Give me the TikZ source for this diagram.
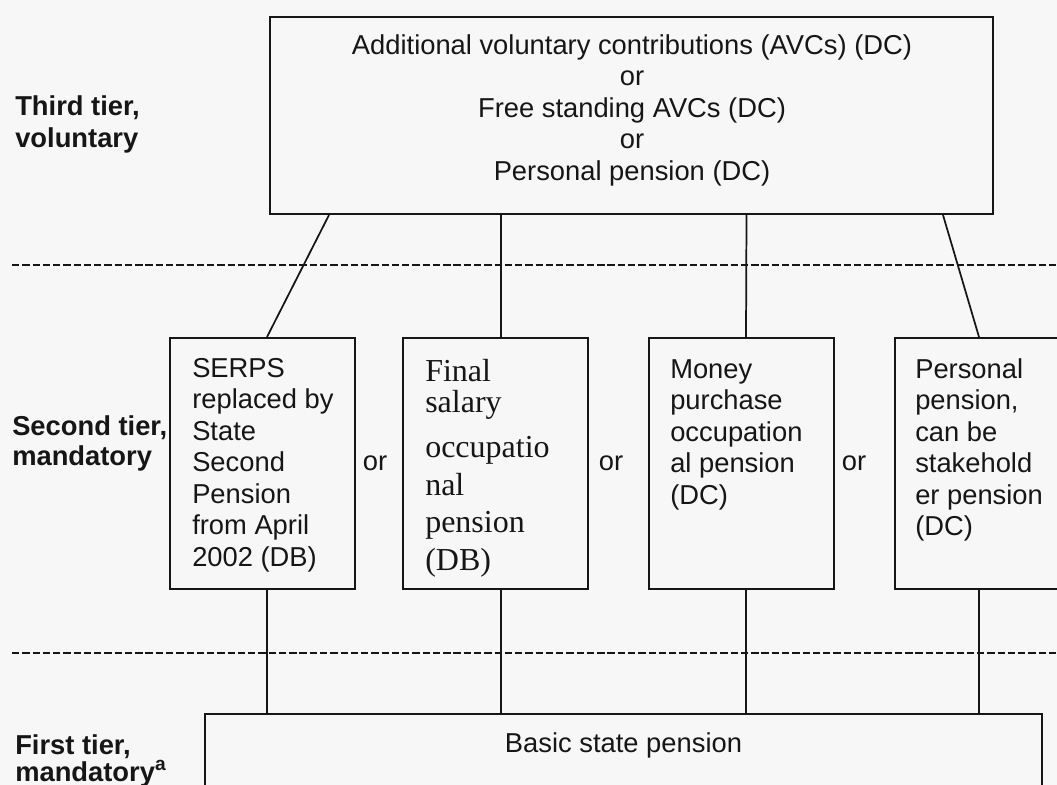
\documentclass[tikz,border=0pt]{standalone}
\usepackage{fontspec}
\setmainfont{Liberation Sans}
\newfontfamily\tnr{Liberation Serif}
\usetikzlibrary{calc}
\definecolor{ink}{RGB}{22,22,22}
\definecolor{paper}{RGB}{247,247,247}
\begin{document}
\begin{tikzpicture}[x=0.75pt,y=-0.75pt,
  box/.style={draw=ink, line width=1.5pt, rectangle, inner sep=0pt},
  conn/.style={draw=ink, line width=1.3pt},
  tierline/.style={draw=ink, line width=1.4pt, dash pattern=on 5.5pt off 2.2pt},
  txt/.style={font=\fontsize{20.5}{24}\selectfont, text=ink, inner sep=0pt, anchor=base west},
  ctxt/.style={txt, anchor=base},
  serif/.style={font=\tnr\fontsize{24}{28}\selectfont, text=ink, inner sep=0pt, anchor=base west},
  lab/.style={font=\fontsize{20.5}{24}\selectfont\bfseries, text=ink, inner sep=0pt, anchor=base west}
]
\fill[paper] (0,0) rectangle (1057,785);
\clip (0,0) rectangle (1057,785);

% tier separators
\draw[tierline] (12,265) -- (1057,265);
\draw[tierline] (12,653) -- (1057,653);

% boxes
\node[box, minimum width=542.25pt, minimum height=147.75pt] (top) at (631.5,115.5) {};
\node[box, minimum width=138.75pt, minimum height=188.25pt] (b1) at (262.5,463.5) {};
\node[box, minimum width=138.75pt, minimum height=188.25pt] (b2) at (495.5,463.5) {};
\node[box, minimum width=138.75pt, minimum height=188.25pt] (b3) at (741,463.5) {};
\node[box, minimum width=138.75pt, minimum height=188.25pt] (b4) at (987.5,463.5) {};
\node[box, minimum width=627.75pt, minimum height=94.5pt] (basic) at (623.5,777) {};

% connectors
\coordinate (u1) at ($(top.south west)+(60,0)$);
\coordinate (u2) at ($(top.south west)+(232,0)$);
\coordinate (u3) at ($(top.south west)+(477.5,0)$);
\coordinate (u4) at ($(top.south west)+(674,0)$);
\coordinate (n1) at ($(b1.north west)+(98,0)$);
\coordinate (n2) at ($(b2.north west)+(99,0)$);
\coordinate (n3) at ($(b3.north west)+(98.5,0)$);
\coordinate (n4) at ($(b4.north west)+(85,0)$);
\coordinate (s1) at ($(b1.south west)+(98,0)$);
\coordinate (s2) at ($(b2.south west)+(99,0)$);
\coordinate (s3) at ($(b3.south west)+(98.5,0)$);
\coordinate (s4) at ($(b4.south west)+(85,0)$);
\draw[conn] (u1) -- (n1);
\draw[conn] (u2) -- (n2);
\draw[conn] (u3) -- (n3);
\draw[conn] (u4) -- (n4);
\draw[conn] (s1) -- (s1 |- basic.north);
\draw[conn] (s2) -- (s2 |- basic.north);
\draw[conn] (s3) -- (s3 |- basic.north);
\draw[conn] (s4) -- (s4 |- basic.north);

% tier labels
\node[lab] (l3a) at (15,115) {Third tier,};
\node[lab] (l3b) at (15,147) {voluntary};
\node[lab] (l2a) at (12,435) {Second tier,};
\node[lab] (l2b) at (12,465) {mandatory};
\node[lab] (l1a) at (15,754) {First tier,};
\node[lab] (l1b) at (15,781) {mandatory\textsuperscript{a}};

% top box text
\node[ctxt] (t1) at (632,54) {Additional voluntary contributions (AVCs) (DC)};
\node[ctxt] (t2) at (632,85.5) {or};
\node[ctxt] (t3) at (632,117) {Free standing AVCs (DC)};
\node[ctxt] (t4) at (632,148.5) {or};
\node[ctxt] (t5) at (632,180) {Personal pension (DC)};

% box 1 text
\node[txt] (a1) at (192,377) {SERPS};
\node[txt] (a2) at (192,408.5) {replaced by};
\node[txt] (a3) at (192,440) {State};
\node[txt] (a4) at (192,471.5) {Second};
\node[txt] (a5) at (192,503) {Pension};
\node[txt] (a6) at (192,534.5) {from April};
\node[txt] (a7) at (192,566) {2002 (DB)};

% box 2 text
\node[serif] (c1) at (425,381) {Final};
\node[serif] (c2) at (425,412) {salary};
\node[serif] (c3) at (425,457) {occupatio};
\node[serif] (c4) at (425,495) {nal};
\node[serif] (c5) at (425,532) {pension};
\node[serif] (c6) at (425,570) {(DB)};

% box 3 text
\node[txt] (d1) at (670,378) {Money};
\node[txt] (d2) at (670,409.5) {purchase};
\node[txt] (d3) at (670,441) {occupation};
\node[txt] (d4) at (670,472.5) {al pension};
\node[txt] (d5) at (670,504) {(DC)};

% box 4 text
\node[txt] (e1) at (915,378) {Personal};
\node[txt] (e2) at (915,409.5) {pension,};
\node[txt] (e3) at (915,441) {can be};
\node[txt] (e4) at (915,472.5) {stakehold};
\node[txt] (e5) at (915,504) {er pension};
\node[txt] (e6) at (915,535.5) {(DC)};

% or labels
\node[ctxt] (o1) at (375,470) {or};
\node[ctxt] (o2) at (611,470) {or};
\node[ctxt] (o3) at (854,470) {or};

% first tier text
\node[ctxt] (bt) at (623.5,752) {Basic state pension};
\end{tikzpicture}
\end{document}
